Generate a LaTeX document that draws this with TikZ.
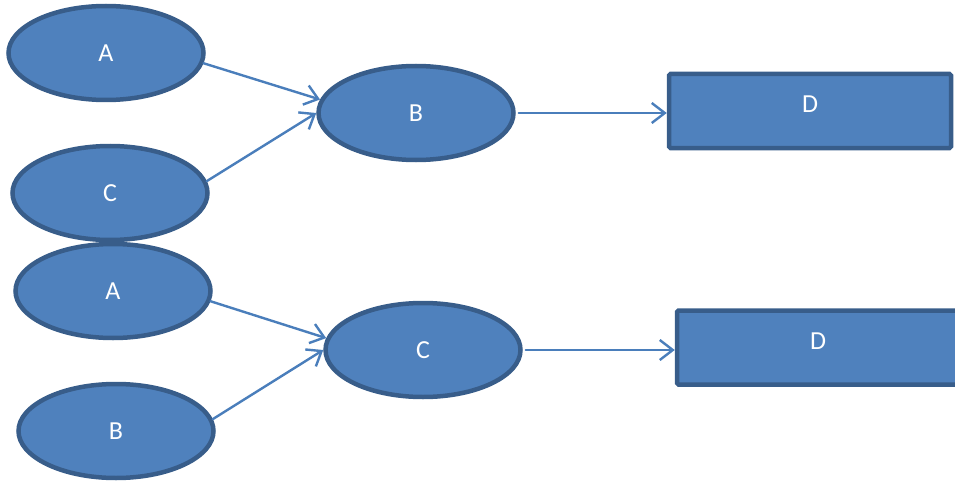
\documentclass[tikz,border=0pt]{standalone}
\usepackage{fontspec}
\setmainfont{Carlito}
\usetikzlibrary{shapes.geometric,arrows.meta}
\definecolor{fillblue}{HTML}{4F81BD}
\definecolor{edgeblue}{HTML}{385D8A}
\definecolor{arrowblue}{HTML}{4A7EBB}
\tikzset{
  oval/.style={ellipse, draw=edgeblue, fill=fillblue, line width=4.5pt,
    minimum width=195pt, minimum height=94pt, inner sep=0pt,
    text=white, font=\fontsize{26}{26}\selectfont},
  boxnode/.style={rectangle, draw=edgeblue, fill=fillblue, line width=4.5pt,
    rounded corners=1.5pt, minimum width=282pt, minimum height=74pt, inner sep=0pt,
    text=white, font=\fontsize{26}{26}\selectfont, text height=17pt, text depth=14pt},
  link/.style={draw=arrowblue, line width=2.4pt, line cap=round,
    -{Straight Barb[length=13pt,width=20pt,line width=2.4pt]}}
}
\begin{document}
\begin{tikzpicture}[x=1pt,y=-1pt]
\useasboundingbox (0,0) rectangle (955,484);
% top group
\node[oval] (A1) at (106,53) {A};
\node[oval] (C1) at (110,193) {C};
\node[oval] (B1) at (416,113) {B};
\node[boxnode] (D1) at (810,111) {D};
% bottom group
\node[oval] (A2) at (113,291) {A};
\node[oval] (B2) at (116,431) {B};
\node[oval] (C2) at (423,350) {C};
\node[boxnode] (D2) at (818,347.5) {D};
% connectors
\draw[link] (A1.-6) -- (B1.172);
\draw[link] (C1.7) -- (B1.west);
\draw[link, shorten <=3pt] (B1.east) -- (B1.east -| D1.west);
\draw[link] (A2.-6) -- (C2.173);
\draw[link] (B2.7) -- (C2.west);
\draw[link, shorten <=3pt] (C2.east) -- (C2.east -| D2.west);
\end{tikzpicture}
\end{document}
